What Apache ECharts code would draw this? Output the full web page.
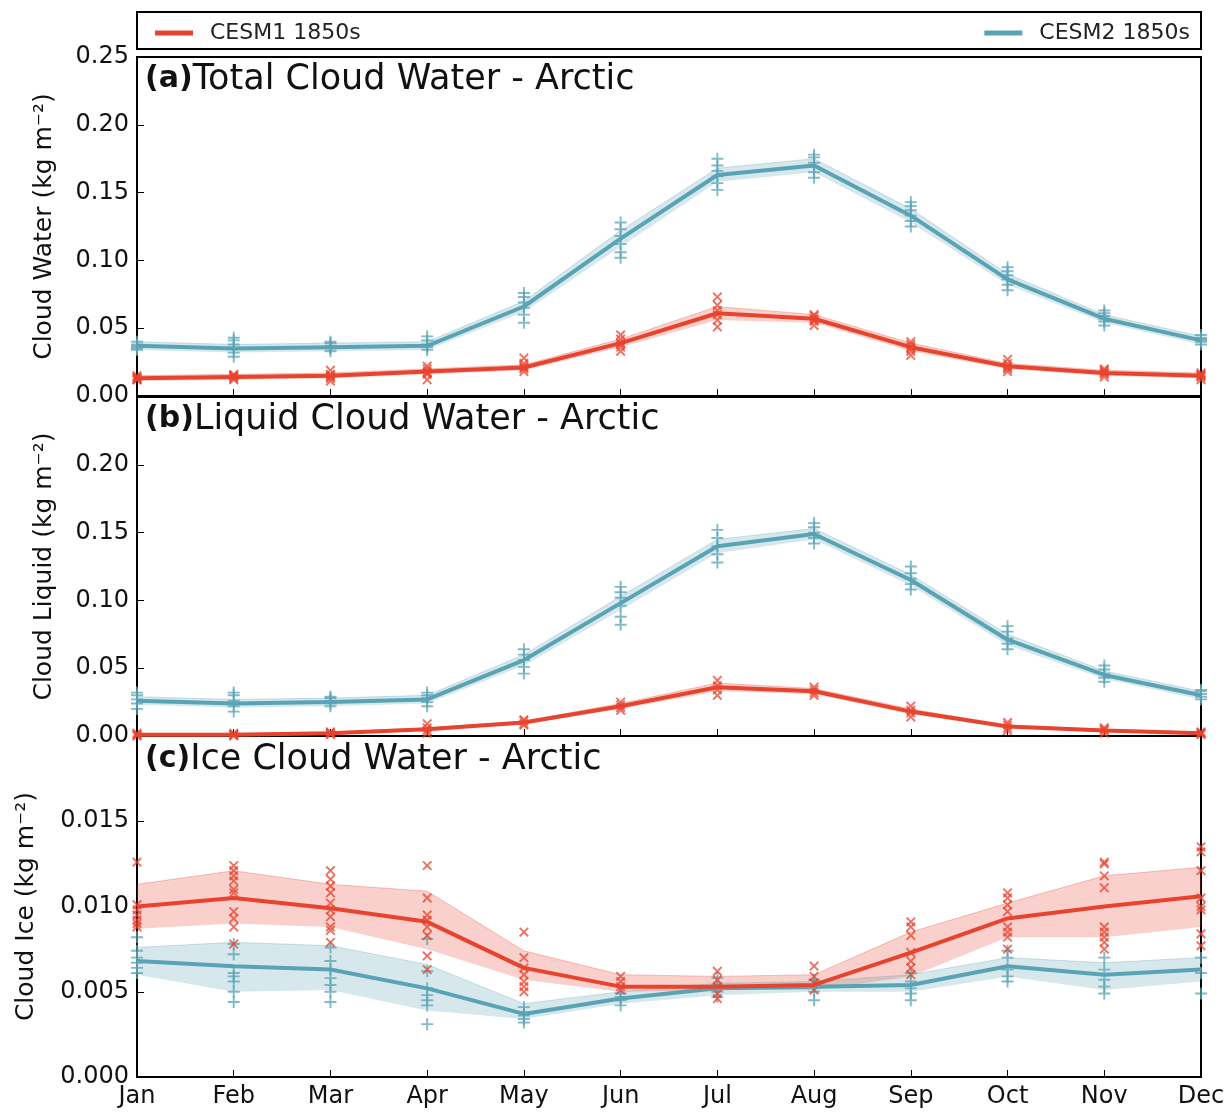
<!DOCTYPE html>
<html>
<head>
<meta charset="utf-8">
<script src="https://cdn.jsdelivr.net/npm/echarts@6/dist/echarts.min.js"></script>
<style>
  html, body { margin: 0; padding: 0; background: #fff; }
  #chart { width: 1231px; height: 1112px; }
</style>
</head>
<body>
<div id="chart"></div>
<script>
var months = ["Jan", "Feb", "Mar", "Apr", "May", "Jun", "Jul", "Aug", "Sep", "Oct", "Nov", "Dec"];

// (a) total cloud water
var totC1 = [0.013, 0.014, 0.015, 0.018, 0.021, 0.039, 0.061, 0.057, 0.036, 0.022, 0.017, 0.015];
var totC1Lo = [0.011, 0.012, 0.013, 0.016, 0.019, 0.036, 0.056, 0.054, 0.033, 0.020, 0.015, 0.013];
var totC1Hi = [0.015, 0.016, 0.017, 0.020, 0.023, 0.042, 0.066, 0.060, 0.039, 0.024, 0.019, 0.017];
var totC2 = [0.037, 0.035, 0.036, 0.037, 0.066, 0.116, 0.163, 0.170, 0.133, 0.086, 0.057, 0.041];
var totC2Lo = [0.034, 0.032, 0.033, 0.034, 0.062, 0.110, 0.158, 0.165, 0.128, 0.082, 0.054, 0.038];
var totC2Hi = [0.040, 0.038, 0.039, 0.040, 0.070, 0.122, 0.168, 0.175, 0.138, 0.090, 0.060, 0.044];
var totC1Mem = [
  [0.012, 0.013, 0.014, 0.013, 0.015, 0.012],
  [0.012, 0.014, 0.015, 0.016, 0.013, 0.015],
  [0.011, 0.014, 0.016, 0.019, 0.015, 0.013],
  [0.012, 0.016, 0.018, 0.020, 0.022, 0.017],
  [0.018, 0.020, 0.022, 0.024, 0.028, 0.021],
  [0.033, 0.036, 0.039, 0.042, 0.045, 0.038],
  [0.051, 0.056, 0.060, 0.063, 0.067, 0.073],
  [0.052, 0.055, 0.057, 0.059, 0.060, 0.056],
  [0.030, 0.033, 0.036, 0.038, 0.040, 0.035],
  [0.018, 0.020, 0.022, 0.024, 0.027, 0.021],
  [0.014, 0.016, 0.017, 0.019, 0.020, 0.018],
  [0.012, 0.014, 0.015, 0.016, 0.017, 0.015]
];
var totC2Mem = [
  [0.034, 0.036, 0.038, 0.040, 0.037, 0.035],
  [0.029, 0.032, 0.035, 0.038, 0.041, 0.043],
  [0.033, 0.035, 0.037, 0.039, 0.040, 0.036],
  [0.034, 0.036, 0.038, 0.041, 0.044, 0.037],
  [0.054, 0.060, 0.065, 0.069, 0.073, 0.076],
  [0.102, 0.106, 0.112, 0.118, 0.123, 0.128],
  [0.152, 0.157, 0.162, 0.166, 0.170, 0.175],
  [0.161, 0.165, 0.169, 0.172, 0.176, 0.178],
  [0.125, 0.129, 0.133, 0.137, 0.140, 0.143],
  [0.078, 0.082, 0.086, 0.089, 0.092, 0.095],
  [0.052, 0.055, 0.057, 0.059, 0.061, 0.063],
  [0.038, 0.040, 0.042, 0.043, 0.045, 0.041]
];

// (b) liquid cloud water
var liqC1 = [0.001, 0.001, 0.002, 0.005, 0.010, 0.022, 0.036, 0.033, 0.018, 0.007, 0.004, 0.002];
var liqC1Lo = [0.000, 0.000, 0.001, 0.004, 0.009, 0.020, 0.033, 0.031, 0.016, 0.006, 0.003, 0.001];
var liqC1Hi = [0.002, 0.002, 0.003, 0.006, 0.011, 0.024, 0.039, 0.035, 0.020, 0.008, 0.005, 0.003];
var liqC2 = [0.026, 0.024, 0.025, 0.027, 0.056, 0.098, 0.140, 0.149, 0.115, 0.071, 0.045, 0.030];
var liqC2Lo = [0.023, 0.021, 0.022, 0.024, 0.052, 0.093, 0.135, 0.145, 0.111, 0.067, 0.042, 0.027];
var liqC2Hi = [0.029, 0.027, 0.028, 0.030, 0.060, 0.103, 0.145, 0.153, 0.119, 0.075, 0.048, 0.033];
var liqC1Mem = [
  [0.000, 0.001, 0.002, 0.001],
  [0.000, 0.001, 0.002, 0.001],
  [0.001, 0.002, 0.003, 0.002],
  [0.002, 0.004, 0.006, 0.009],
  [0.008, 0.009, 0.011, 0.012],
  [0.019, 0.021, 0.023, 0.025],
  [0.030, 0.034, 0.037, 0.041],
  [0.030, 0.032, 0.034, 0.036],
  [0.014, 0.017, 0.019, 0.022],
  [0.004, 0.006, 0.008, 0.010],
  [0.002, 0.004, 0.005, 0.006],
  [0.001, 0.002, 0.003, 0.002]
];
var liqC2Mem = [
  [0.020, 0.024, 0.027, 0.030, 0.032],
  [0.018, 0.022, 0.026, 0.030, 0.032],
  [0.022, 0.024, 0.026, 0.028, 0.029],
  [0.022, 0.025, 0.028, 0.030, 0.032],
  [0.046, 0.051, 0.056, 0.060, 0.064],
  [0.082, 0.088, 0.096, 0.102, 0.106, 0.110],
  [0.128, 0.134, 0.140, 0.146, 0.152],
  [0.142, 0.146, 0.150, 0.154, 0.157],
  [0.108, 0.112, 0.116, 0.120, 0.125],
  [0.064, 0.068, 0.072, 0.077, 0.081],
  [0.040, 0.043, 0.046, 0.049, 0.052],
  [0.027, 0.029, 0.031, 0.033, 0.034]
];

// (c) ice cloud water
var iceC1 = [0.0100, 0.0105, 0.0099, 0.0091, 0.0064, 0.0053, 0.0053, 0.0054, 0.0073, 0.0093, 0.0100, 0.0106];
var iceC1Lo = [0.0087, 0.0090, 0.0088, 0.0075, 0.0057, 0.0050, 0.0051, 0.0051, 0.0059, 0.0082, 0.0082, 0.0088];
var iceC1Hi = [0.0113, 0.0121, 0.0113, 0.0109, 0.0074, 0.0060, 0.0059, 0.0060, 0.0085, 0.0102, 0.0118, 0.0123];
var iceC2 = [0.0068, 0.0065, 0.0063, 0.0052, 0.0037, 0.0046, 0.0052, 0.0053, 0.0054, 0.0065, 0.0060, 0.0063];
var iceC2Lo = [0.0060, 0.0050, 0.0051, 0.0039, 0.0034, 0.0043, 0.0048, 0.0050, 0.0050, 0.0059, 0.0051, 0.0056];
var iceC2Hi = [0.0076, 0.0079, 0.0077, 0.0066, 0.0043, 0.0050, 0.0055, 0.0056, 0.0060, 0.0070, 0.0067, 0.0070];
var iceC1Mem = [
  [0.0126, 0.0101, 0.0098, 0.0095, 0.0092, 0.0090, 0.0088],
  [0.0124, 0.0121, 0.0118, 0.0115, 0.0110, 0.0108, 0.0097, 0.0093, 0.0088, 0.0078],
  [0.0121, 0.0116, 0.0112, 0.0108, 0.0102, 0.0098, 0.0094, 0.0088, 0.0086, 0.0079],
  [0.0124, 0.0105, 0.0095, 0.0092, 0.0088, 0.0083, 0.0071, 0.0063],
  [0.0085, 0.0070, 0.0064, 0.0060, 0.0056, 0.0053, 0.0050],
  [0.0059, 0.0056, 0.0053, 0.0051],
  [0.0062, 0.0057, 0.0053, 0.0049, 0.0046],
  [0.0065, 0.0059, 0.0055, 0.0051],
  [0.0091, 0.0088, 0.0083, 0.0073, 0.0068, 0.0064, 0.0060],
  [0.0108, 0.0105, 0.0101, 0.0097, 0.0088, 0.0085, 0.0082, 0.0075],
  [0.0126, 0.0125, 0.0118, 0.0111, 0.0088, 0.0085, 0.0082, 0.0079, 0.0075],
  [0.0135, 0.0132, 0.0121, 0.0105, 0.0100, 0.0098, 0.0084, 0.0077]
];
var iceC2Mem = [
  [0.0082, 0.0074, 0.0070, 0.0067, 0.0064, 0.0061],
  [0.0078, 0.0072, 0.0061, 0.0059, 0.0056, 0.0050, 0.0044],
  [0.0076, 0.0068, 0.0063, 0.0058, 0.0054, 0.0050, 0.0044],
  [0.0081, 0.0062, 0.0052, 0.0048, 0.0045, 0.0042, 0.0031],
  [0.0041, 0.0038, 0.0036, 0.0034, 0.0032],
  [0.0049, 0.0047, 0.0045, 0.0042],
  [0.0058, 0.0054, 0.0050, 0.0047],
  [0.0057, 0.0054, 0.0050, 0.0045],
  [0.0061, 0.0056, 0.0052, 0.0049, 0.0045],
  [0.0074, 0.0070, 0.0063, 0.0059, 0.0056],
  [0.0070, 0.0063, 0.0057, 0.0053, 0.0049],
  [0.0070, 0.0061, 0.0049]
];

var RED = "#e8432e";
var BLUE = "#5aa3b5";
var PLUS = "path://M4.2,0H5.8V4.2H10V5.8H5.8V10H4.2V5.8H0V4.2H4.2Z";

var chart = echarts.init(document.getElementById("chart"));

var grids = [
  { left: 137, right: 30, top: 57, height: 339 },
  { left: 137, right: 30, top: 397, height: 339 },
  { left: 137, right: 30, top: 736, height: 341 }
];
grids.forEach(function (g) {
  g.show = true;
  g.borderColor = "#000";
  g.borderWidth = 2;
  g.backgroundColor = "transparent";
});

function xAxis(i, showLabels) {
  return {
    type: "category", gridIndex: i, data: months, boundaryGap: false,
    axisLine: { lineStyle: { color: "#000", width: 2 } },
    axisTick: { inside: true, length: 7, lineStyle: { color: "#000" } },
    axisLabel: { show: showLabels, color: "#111", fontSize: 24, fontFamily: "DejaVu Sans", margin: 8 },
    splitLine: { show: false }
  };
}

function yAxis(i, max, interval, digits, name, gap, showMax) {
  return {
    type: "value", gridIndex: i, min: 0, max: max, interval: interval,
    name: name, nameLocation: "middle", nameGap: gap, nameRotate: 90,
    nameTextStyle: { fontSize: 25, fontFamily: "DejaVu Sans", color: "#111" },
    axisLine: { show: true, lineStyle: { color: "#000", width: 2 } },
    axisTick: { show: true, inside: true, length: 7, lineStyle: { color: "#000" } },
    axisLabel: {
      color: "#111", fontSize: 24, fontFamily: "DejaVu Sans", margin: 8,
      showMaxLabel: showMax,
      formatter: function (v) { return v.toFixed(digits); }
    },
    splitLine: { show: false }
  };
}

var series = [];

function addBand(gi, lo, hi, color, key) {
  series.push({
    type: "line", xAxisIndex: gi, yAxisIndex: gi, stack: key, data: lo,
    symbol: "none", silent: true, lineStyle: { opacity: 0 }, z: 1
  });
  series.push({
    type: "line", xAxisIndex: gi, yAxisIndex: gi, stack: key,
    data: hi.map(function (h, k) { return h - lo[k]; }),
    symbol: "none", silent: true,
    lineStyle: { color: color, width: 1, opacity: 0.3 },
    areaStyle: { color: color, opacity: 0.25 }, z: 1
  });
}

function addMembers(gi, mem, color, rotate) {
  var pts = [];
  mem.forEach(function (vals, k) {
    vals.forEach(function (v) { pts.push([k, v]); });
  });
  series.push({
    type: "scatter", xAxisIndex: gi, yAxisIndex: gi, data: pts,
    symbol: PLUS, symbolSize: 12, symbolRotate: rotate, silent: true,
    itemStyle: { color: color, opacity: 0.75 }, z: 2
  });
}

function addMean(gi, vals, color, name) {
  series.push({
    type: "line", name: name, xAxisIndex: gi, yAxisIndex: gi, data: vals,
    symbol: "none", lineStyle: { color: color, width: 4 }, itemStyle: { color: color }, z: 3
  });
}

function addPanel(gi, c1, c1Lo, c1Hi, c1Mem, c2, c2Lo, c2Hi, c2Mem) {
  addBand(gi, c2Lo, c2Hi, BLUE, "b2_" + gi);
  addBand(gi, c1Lo, c1Hi, RED, "b1_" + gi);
  addMembers(gi, c2Mem, BLUE, 0);
  addMembers(gi, c1Mem, RED, 45);
  addMean(gi, c2, BLUE, "CESM2 1850s");
  addMean(gi, c1, RED, "CESM1 1850s");
}

addPanel(0, totC1, totC1Lo, totC1Hi, totC1Mem, totC2, totC2Lo, totC2Hi, totC2Mem);
addPanel(1, liqC1, liqC1Lo, liqC1Hi, liqC1Mem, liqC2, liqC2Lo, liqC2Hi, liqC2Mem);
addPanel(2, iceC1, iceC1Lo, iceC1Hi, iceC1Mem, iceC2, iceC2Lo, iceC2Hi, iceC2Mem);

function panelTitle(top, tag, text) {
  return {
    text: "{b|" + tag + "}" + text, left: 145, top: top, padding: 0,
    textStyle: {
      fontSize: 35, fontFamily: "DejaVu Sans", fontWeight: "normal", color: "#111",
      rich: { b: { fontSize: 30, fontFamily: "DejaVu Sans", fontWeight: "bold", color: "#111" } }
    }
  };
}

var legendBase = {
  top: 17, icon: "rect", itemWidth: 38, itemHeight: 5,
  textStyle: { fontSize: 22, fontFamily: "DejaVu Sans", color: "#222", padding: [0, 0, 0, 12] },
  selectedMode: false
};

chart.setOption({
  animation: false,
  backgroundColor: "#fff",
  title: [
    panelTitle(62, "(a)", "Total Cloud Water - Arctic"),
    panelTitle(402, "(b)", "Liquid Cloud Water - Arctic"),
    panelTitle(742, "(c)", "Ice Cloud Water - Arctic")
  ],
  legend: [
    Object.assign({}, legendBase, { left: 150, data: ["CESM1 1850s"] }),
    Object.assign({}, legendBase, { right: 36, data: ["CESM2 1850s"] })
  ],
  graphic: [{
    type: "rect", silent: true, z: -1,
    shape: { x: 137, y: 12, width: 1064, height: 37 },
    style: { fill: "#fff", stroke: "#000", lineWidth: 2 }
  }],
  grid: grids,
  xAxis: [xAxis(0, false), xAxis(1, false), xAxis(2, true)],
  yAxis: [
    yAxis(0, 0.25, 0.05, 2, "Cloud Water (kg m\u207B\u00B2)", 80, true),
    yAxis(1, 0.25, 0.05, 2, "Cloud Liquid (kg m\u207B\u00B2)", 80, false),
    yAxis(2, 0.02, 0.005, 3, "Cloud Ice (kg m\u207B\u00B2)", 98, false)
  ],
  series: series
});
</script>
</body>
</html>
